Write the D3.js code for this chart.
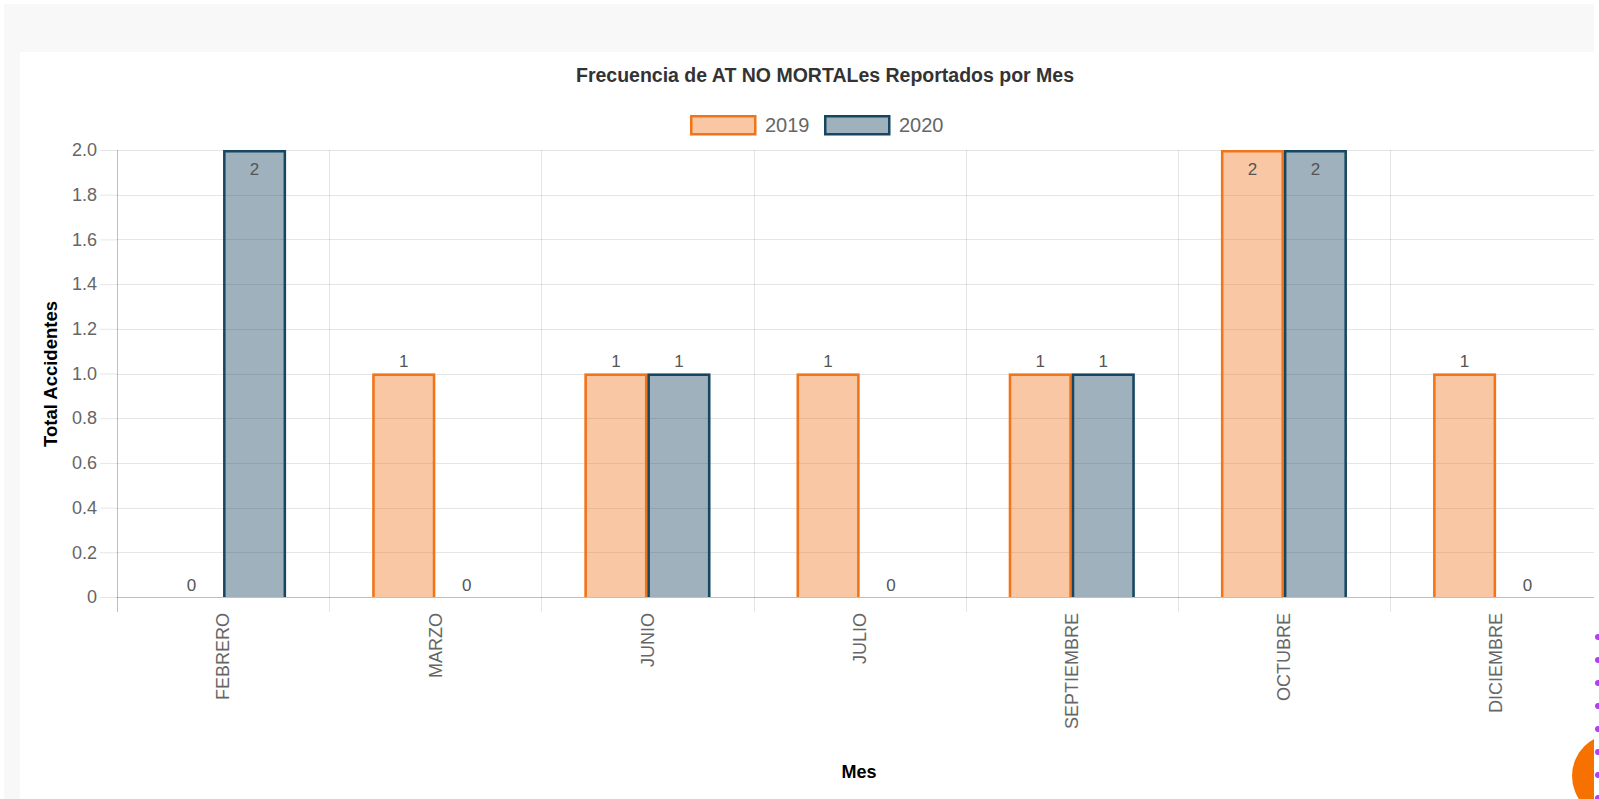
<!DOCTYPE html>
<html>
<head>
<meta charset="utf-8">
<script src="https://cdn.jsdelivr.net/npm/d3@7"></script>
<style>
  html, body { margin: 0; padding: 0; background: #fff; overflow: hidden; }
  svg { display: block; font-family: "Liberation Sans", Arial, Helvetica, sans-serif; }
</style>
</head>
<body>
<div id="chart"></div>
<script>
// data
const months = ["FEBRERO", "MARZO", "JUNIO", "JULIO", "SEPTIEMBRE", "OCTUBRE", "DICIEMBRE"];
const series = ["2019", "2020"];
const values2019 = [0, 1, 1, 1, 1, 2, 1];
const values2020 = [2, 0, 1, 0, 1, 2, 0];
const yTicks = [0, 0.2, 0.4, 0.6, 0.8, 1.0, 1.2, 1.4, 1.6, 1.8, 2.0];

const title = "Frecuencia de AT NO MORTALes Reportados por Mes";
const yTitle = "Total Accidentes";
const xTitle = "Mes";

const strokeColors = { "2019": "#f0741a", "2020": "#174660" };
const fillColors = { "2019": "rgba(240,116,26,0.4)", "2020": "rgba(23,70,96,0.42)" };

const width = 1599, height = 799;
const plotLeft = 117, plotTop = 150, plotBottom = 597;
const catWidth = 212.17;

let svg = d3.select("#chart").append("svg")
    .attr("width", width)
    .attr("height", height);

// page background and white panel
svg.append("rect").attr("x", 4).attr("y", 4).attr("width", 1590).attr("height", 795).attr("fill", "#f8f8f8");
svg.append("rect").attr("x", 20).attr("y", 52).attr("width", 1574).attr("height", 747).attr("fill", "#fff");

svg.append("defs").append("clipPath").attr("id", "panel")
    .append("rect").attr("x", 20).attr("y", 52).attr("width", 1574).attr("height", 747);

let g = svg.append("g").attr("clip-path", "url(#panel)");

let x = d3.scaleBand()
    .domain(months)
    .range([plotLeft, plotLeft + catWidth * months.length])
    .padding(0);

let xInner = d3.scaleBand()
    .domain(series)
    .range([0, x.bandwidth()])
    .paddingInner(0)
    .paddingOuter(0.684);

let y = d3.scaleLinear().domain([0, 2]).range([plotBottom, plotTop]);

// horizontal grid + y ticks
let yAxis = d3.axisLeft(y)
    .tickValues(yTicks)
    .tickSize(17)
    .tickPadding(3)
    .tickFormat(d => d === 0 ? "0" : d3.format(".1f")(d));

let yg = g.append("g").attr("transform", `translate(${plotLeft},0)`).call(yAxis);
yg.select(".domain").remove();
yg.selectAll(".tick line").attr("stroke", "rgba(0,0,0,0.1)");
yg.selectAll(".tick text").attr("fill", "#666").attr("font-size", 18).attr("font-family", null);

g.append("g").selectAll("line")
    .data(yTicks)
    .join("line")
    .attr("x1", plotLeft)
    .attr("x2", x.range()[1])
    .attr("y1", d => Math.round(y(d)) + 0.5)
    .attr("y2", d => Math.round(y(d)) + 0.5)
    .attr("stroke", d => d === 0 ? "rgba(0,0,0,0.25)" : "rgba(0,0,0,0.1)");

// vertical grid at category boundaries
let bounds = months.map(m => x(m)).concat([x.range()[1]]);
g.append("g").selectAll("line")
    .data(bounds)
    .join("line")
    .attr("x1", d => Math.round(d) + 0.5)
    .attr("x2", d => Math.round(d) + 0.5)
    .attr("y1", plotTop)
    .attr("y2", plotBottom + 15)
    .attr("stroke", (d, i) => i === 0 ? "rgba(0,0,0,0.25)" : "rgba(0,0,0,0.1)");

// x tick labels, rotated
g.append("g").selectAll("text")
    .data(months)
    .join("text")
    .attr("transform", d => `translate(${x(d) + x.bandwidth() / 2},${plotBottom + 16}) rotate(-90)`)
    .attr("text-anchor", "end")
    .attr("dy", "0.35em")
    .attr("fill", "#666")
    .attr("font-size", 18)
    .text(d => d);

// bars
let rows = [];
months.forEach((m, i) => {
    rows.push({ month: m, key: "2019", value: values2019[i] });
    rows.push({ month: m, key: "2020", value: values2020[i] });
});

let bars = g.append("g").selectAll("g")
    .data(rows.filter(d => d.value > 0))
    .join("g");

bars.append("rect")
    .attr("x", d => x(d.month) + xInner(d.key))
    .attr("y", d => y(d.value))
    .attr("width", xInner.bandwidth())
    .attr("height", d => y(0) - y(d.value))
    .attr("fill", d => fillColors[d.key]);

// border on left, top and right only (bottom skipped)
bars.append("path")
    .attr("d", d => {
        let x0 = x(d.month) + xInner(d.key) + 1.25;
        let x1 = x(d.month) + xInner(d.key) + xInner.bandwidth() - 1.25;
        let yt = y(d.value) + 1.25;
        return `M${x0},${y(0)}V${yt}H${x1}V${y(0)}`;
    })
    .attr("fill", "none")
    .attr("stroke", d => strokeColors[d.key])
    .attr("stroke-width", 2.5);

// value labels
g.append("g").selectAll("text")
    .data(rows)
    .join("text")
    .attr("x", d => x(d.month) + xInner(d.key) + xInner.bandwidth() / 2)
    .attr("y", d => Math.max(y(d.value) - 12, plotTop + 19))
    .attr("dy", "0.35em")
    .attr("text-anchor", "middle")
    .attr("fill", "#555")
    .attr("font-size", 17)
    .text(d => d.value);

// title
svg.append("text")
    .attr("x", 825)
    .attr("y", 75)
    .attr("dy", "0.35em")
    .attr("text-anchor", "middle")
    .attr("font-size", 19.5)
    .attr("font-weight", "bold")
    .attr("fill", "#333")
    .text(title);

// legend
let legendX = [690, 824];
let legend = svg.append("g").selectAll("g")
    .data(series)
    .join("g")
    .attr("transform", (d, i) => `translate(${legendX[i]},115)`);

legend.append("rect")
    .attr("x", 1.25).attr("y", 1.25)
    .attr("width", 64).attr("height", 18)
    .attr("fill", d => fillColors[d])
    .attr("stroke", d => strokeColors[d])
    .attr("stroke-width", 2.5);

legend.append("text")
    .attr("x", 75)
    .attr("y", 10)
    .attr("dy", "0.35em")
    .attr("fill", "#666")
    .attr("font-size", 20)
    .text(d => d);

// axis titles
svg.append("text")
    .attr("transform", "translate(51,374) rotate(-90)")
    .attr("text-anchor", "middle")
    .attr("dy", "0.35em")
    .attr("font-size", 18.5)
    .attr("font-weight", "bold")
    .attr("fill", "#000")
    .text(yTitle);

svg.append("text")
    .attr("x", 859)
    .attr("y", 772)
    .attr("dy", "0.35em")
    .attr("text-anchor", "middle")
    .attr("font-size", 18)
    .attr("font-weight", "bold")
    .attr("fill", "#000")
    .text(xTitle);

// chat widget peeking in at the bottom right corner
svg.append("circle")
    .attr("cx", 1614).attr("cy", 776).attr("r", 42)
    .attr("fill", "#f77100")
    .attr("clip-path", "url(#panel)");
svg.append("g").selectAll("circle")
    .data(d3.range(637, 799, 23))
    .join("circle")
    .attr("cx", 1598).attr("cy", d => d).attr("r", 3)
    .attr("fill", "#b43ff0");
</script>
</body>
</html>
